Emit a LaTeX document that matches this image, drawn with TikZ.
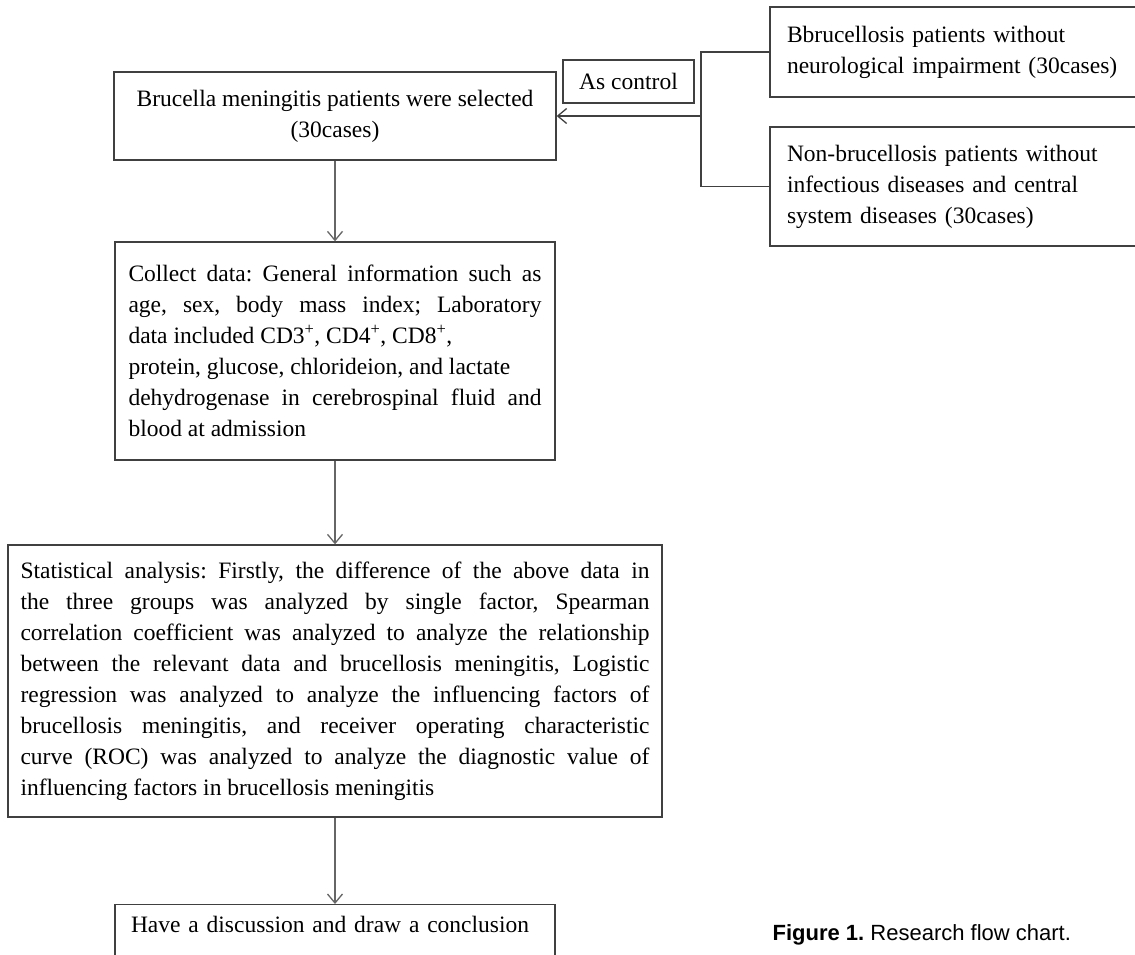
\documentclass[tikz,border=0pt]{standalone}
\usepackage{fontspec}
\setmainfont{Liberation Serif}
\newfontfamily\capfont{Liberation Sans}
\usetikzlibrary{arrows.meta}

\begin{document}
\frenchspacing
\begin{tikzpicture}
[x=1pt,y=-1pt,>={Straight Barb[length=9pt,width=15pt]},line width=1.3pt,
  box/.style={draw=black!75,font=\fontsize{23.5}{31}\selectfont,inner sep=0pt},
  flow/.style={->,draw=black!60}]
  \useasboundingbox (0,0) rectangle (1135,955);

  \node[box,minimum width=442pt,minimum height=88pt,align=center] (n1) at (335,116)
    {Brucella meningitis patients were selected\\(30cases)};

  \node[box,minimum width=440pt,minimum height=218pt,text width=413pt,align=justify] (n2) at (335,351)
    {Collect data: General information such as\linebreak
     age, sex, body mass index; Laboratory\linebreak
     data included CD3\textsuperscript{+}, CD4\textsuperscript{+}, CD8\textsuperscript{+},\newline
     protein, glucose, chlorideion, and lactate\newline
     dehydrogenase in cerebrospinal fluid and\linebreak
     blood at admission};

  \node[box,minimum width=654pt,minimum height=272pt,text width=629pt,align=justify] (n3) at (335,681)
    {Statistical analysis: Firstly, the difference of the above data in\linebreak
     the three groups was analyzed by single factor, Spearman\linebreak
     correlation coefficient was analyzed to analyze the relationship\linebreak
     between the relevant data and brucellosis meningitis, Logistic\linebreak
     regression was analyzed to analyze the influencing factors of\linebreak
     brucellosis meningitis, and receiver operating characteristic\linebreak
     curve (ROC) was analyzed to analyze the diagnostic value of\linebreak
     influencing factors in brucellosis meningitis};

  \node[box,anchor=north,minimum width=440pt,text width=408pt,align=left,
    inner ysep=12pt,text depth=50pt] (n4) at (335,904)
    {Have a discussion and draw a conclusion};

  \node[box,minimum width=131pt,minimum height=43pt] (ctl) at (628.5,81.5) {As control};

  \node[box,minimum width=380pt,minimum height=90pt,text width=346pt,align=left] (c1) at (960,52)
    {Bbrucellosis patients without\\neurological impairment (30cases)};
  \node[box,minimum width=380pt,minimum height=119pt,text width=346pt,align=left] (c2) at (960,186.5)
    {Non-brucellosis patients without\\infectious diseases and central\\system diseases (30cases)};

  \coordinate (br) at (701,116);

  \draw[black!75] (c1.west) -| (br) |- (c2.west);
  \draw[->,black!75] (br) -- (n1.east);

  \foreach \from/\to in {n1/n2,n2/n3,n3/n4}
    \draw[flow] (\from) -- (\to);

  \node[anchor=base west,inner sep=0pt,font=\capfont\fontsize{22}{25}\selectfont] (cap) at (772,940)
    {\textbf{Figure 1.} Research flow chart.};

\end{tikzpicture}
\end{document}
